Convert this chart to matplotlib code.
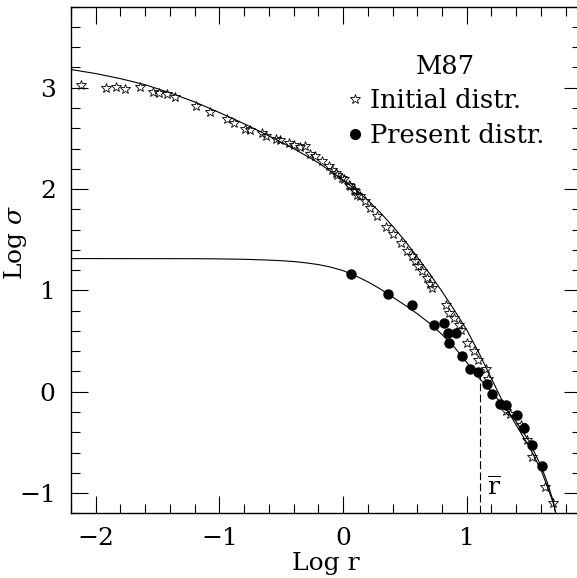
import matplotlib
matplotlib.use("Agg")
import matplotlib.pyplot as plt
from matplotlib.ticker import MultipleLocator
from matplotlib.lines import Line2D

plt.rcParams['font.family'] = ['DejaVu Serif']
plt.rcParams['mathtext.fontset'] = 'dejavuserif'

# ---- data ----
init_x = [-2.12, -1.92, -1.84, -1.76, -1.64, -1.535, -1.49, -1.42, -1.355, -1.19,
          -1.075, -0.94, -0.88, -0.79, -0.75, -0.655, -0.625, -0.54, -0.51, -0.44,
          -0.40, -0.35, -0.31, -0.27, -0.225, -0.17, -0.115, -0.09, -0.06, -0.05,
          -0.01, 0.005, 0.045, 0.06, 0.085, 0.10, 0.115, 0.14, 0.18, 0.22,
          0.275, 0.345, 0.40, 0.465, 0.52, 0.56, 0.585, 0.61, 0.64, 0.68,
          0.705, 0.72, 0.83, 0.855, 0.895, 0.935, 0.95, 1.005, 1.055, 1.09,
          1.16, 1.17, 1.32, 1.35, 1.44, 1.485, 1.525, 1.63, 1.695]
init_y = [3.03, 3.00, 3.01, 2.99, 3.01, 2.96, 2.95, 2.935, 2.91, 2.82,
          2.765, 2.69, 2.65, 2.595, 2.58, 2.55, 2.52, 2.495, 2.48, 2.455,
          2.435, 2.415, 2.43, 2.35, 2.325, 2.275, 2.225, 2.19, 2.16, 2.14,
          2.11, 2.095, 2.045, 2.03, 1.99, 1.98, 1.945, 1.93, 1.88, 1.815,
          1.73, 1.63, 1.56, 1.47, 1.385, 1.335, 1.29, 1.24, 1.19, 1.12,
          1.065, 1.025, 0.86, 0.78, 0.73, 0.66, 0.61, 0.48, 0.40, 0.31,
          0.22, 0.13, -0.195, -0.22, -0.33, -0.475, -0.64, -0.945, -1.095]

pres_x = [0.065, 0.36, 0.56, 0.735, 0.815, 0.845, 0.915, 0.86, 0.965, 1.025,
          1.09, 1.167, 1.207, 1.267, 1.32, 1.405, 1.465, 1.525, 1.607]
pres_y = [1.16, 0.96, 0.86, 0.655, 0.68, 0.58, 0.58, 0.48, 0.355, 0.22,
          0.19, 0.078, -0.02, -0.12, -0.13, -0.23, -0.355, -0.525, -0.73]

init_curve_x = [-2.2, -2.0, -1.8, -1.6, -1.4, -1.2, -1.0, -0.8, -0.6, -0.4, -0.2,
                0.0, 0.1, 0.2, 0.3, 0.4, 0.5, 0.6, 0.7, 0.8, 0.9, 1.0, 1.1, 1.2,
                1.3, 1.4, 1.5, 1.6, 1.65, 1.7, 1.72]
init_curve_y = [3.18, 3.14, 3.09, 3.03, 2.95, 2.86, 2.755, 2.645, 2.525, 2.40, 2.26,
                2.09, 1.995, 1.89, 1.77, 1.635, 1.49, 1.33, 1.165, 0.99, 0.805,
                0.61, 0.38, 0.13, -0.12, -0.33, -0.53, -0.77, -0.93, -1.10, -1.2]

pres_curve_x = [-2.2, -1.2, -1.0, -0.8, -0.6, -0.5, -0.4, -0.3, -0.2, -0.1, 0.0,
                0.1, 0.2, 0.3, 0.4, 0.5, 0.6, 0.7, 0.8, 0.9, 1.0, 1.1, 1.2, 1.3,
                1.4, 1.5, 1.6, 1.65, 1.7, 1.72]
pres_curve_y = [1.314, 1.313, 1.311, 1.307, 1.299, 1.293, 1.285, 1.272, 1.255, 1.23,
                1.195, 1.145, 1.085, 1.015, 0.935, 0.855, 0.77, 0.675, 0.565, 0.44,
                0.29, 0.135, 0.0, -0.145, -0.295, -0.48, -0.73, -0.89, -1.08, -1.2]

r_bar = 1.105
r_bar_top = 0.18

title = "M87"
labels = ["Initial distr.", "Present distr."]

# ---- figure ----
fig = plt.figure(figsize=(5.77, 5.78), dpi=100)
W, H = 577.0, 578.0
ax = fig.add_axes([71 / W, 1 - 513.3 / H, (581.0 - 71) / W, (513.3 - 6.7) / H])

ax.plot(init_curve_x, init_curve_y, color='black', lw=0.8)
ax.plot(pres_curve_x, pres_curve_y, color='black', lw=0.8)
ax.plot(init_x, init_y, linestyle='none', marker='*', markersize=7,
        markerfacecolor='none', markeredgecolor='black', markeredgewidth=0.6)
ax.plot(pres_x, pres_y, linestyle='none', marker='o', markersize=6.5,
        markerfacecolor='black', markeredgecolor='black')

ax.plot([r_bar, r_bar], [-1.2, r_bar_top], color='black', lw=0.8, dashes=(7, 3))
ax.text(r_bar + 0.115, -1.02, r'$\overline{\mathrm{r}}$', fontsize=18,
        ha='center', va='baseline')

ax.set_xlim(-2.2, -2.2 + (581.0 - 71) / 123.66)
ax.set_ylim(-1.2, 3.8)
ax.xaxis.set_major_locator(MultipleLocator(1))
ax.xaxis.set_minor_locator(MultipleLocator(0.2))
ax.yaxis.set_major_locator(MultipleLocator(1))
ax.yaxis.set_minor_locator(MultipleLocator(0.2))
ax.tick_params(which='both', direction='in', top=True, right=True, width=0.8)
ax.tick_params(which='major', length=12.2)
ax.tick_params(which='minor', length=6.5)
ax.tick_params(axis='x', which='major', labelsize=18, pad=10)
ax.tick_params(axis='y', which='major', labelsize=18, pad=11)
for s in ax.spines.values():
    s.set_linewidth(1.0)
ax.spines['right'].set_visible(False)

ax.set_xlabel('Log r', fontsize=18, labelpad=1)
ax.set_ylabel(r'Log $\sigma$', fontsize=18)
ax.yaxis.set_label_coords((29 - 71) / 507.5, 0.5355)

handles = [Line2D([], [], linestyle='none', marker='*', markersize=7,
                  markerfacecolor='none', markeredgecolor='black', markeredgewidth=0.6),
           Line2D([], [], linestyle='none', marker='o', markersize=7,
                  markerfacecolor='black', markeredgecolor='black')]
leg = ax.legend(handles, labels, title=title, loc='upper left',
                bbox_to_anchor=(347 / W, 1 - 53.5 / H), bbox_transform=fig.transFigure,
                frameon=False, fontsize=18.5, title_fontsize=18.5, numpoints=1,
                handlelength=0.6, handletextpad=0.28, labelspacing=0.38,
                borderpad=0, borderaxespad=0)

fig.savefig('out.png', dpi=100)
